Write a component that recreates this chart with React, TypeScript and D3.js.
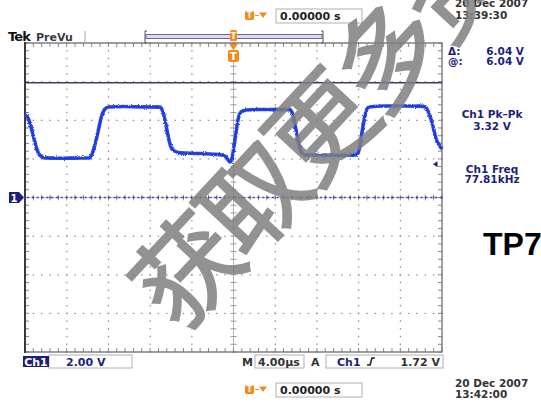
import React from 'react';
import * as d3 from 'd3';

// trace: time in µs (0 = trigger), level in volts
const traceTime = [
  -20.0, -19.7, -19.3, -18.9, -18.6, -18.1, -16.5, -15.0, -13.8, -13.6, -13.3, -13.0, -12.7, -12.4,
  -12.0, -10.5, -9.0, -7.05, -6.77, -6.48, -6.19, -5.9, -5.5, -5.1, -3.5, -2.0, -1.1, -0.72, -0.34,
  -0.14, 0.14, 0.43, 0.72, 1.2, 2.5, 4.0, 5.42, 5.7, 6.0, 6.29, 6.57, 6.96, 8.5, 10.0, 11.75, 12.04,
  12.33, 12.62, 13.0, 14.5, 16.5, 18.3, 18.7, 19.1, 19.4, 19.8, 20.0,
];
const traceVolts = [
  4.33, 4.12, 3.39, 2.56, 2.2, 2.05, 2.03, 2.04, 2.05, 2.2, 2.72, 3.39, 4.12, 4.53,
  4.69, 4.71, 4.69, 4.68, 4.43, 3.76, 2.98, 2.51, 2.36, 2.31, 2.28, 2.24, 2.2, 2.1, 1.84,
  2.05, 2.98, 4.02, 4.43, 4.53, 4.56, 4.55, 4.55, 4.27, 3.5, 2.72, 2.31, 2.2, 2.19, 2.18, 2.2, 2.46,
  3.39, 4.27, 4.69, 4.74, 4.74, 4.72, 4.43, 3.76, 3.08, 2.67, 2.51,
];

const cursorVolts = [0, 6.04];
const triggerLevel = 1.72;
const readouts = [
  { label: 'Ch1 Pk–Pk', value: '3.32 V' },
  { label: 'Ch1 Freq', value: '77.81kHz' },
];
const cursorLabels = [
  { label: 'Δ:', value: '6.04 V' },
  { label: '@:', value: '6.04 V' },
];
const stamps = { top: ['20 Dec  2007', '13:39:30'], bottom: ['20 Dec  2007', '13:42:00'] };
const watermark = '获取更多资料';

const W = 541;
const H = 405;
const box = { left: 25, right: 442, top: 43, bottom: 352 };

const NAVY = '#1e1e7c';
const ORANGE = '#f28a1c';
const FONT = 'DejaVu Sans, Verdana, sans-serif';

const TIcon = ({ x, y, s = 10 }: { x: number; y: number; s?: number }) => (
  <g>
    <rect x={x} y={y} width={s} height={s} rx={1.5} fill={ORANGE} />
    <text x={x + s / 2} y={y + s - 2} fontSize={s - 1} fontWeight="bold" fill="#fff" textAnchor="middle" fontFamily={FONT}>T</text>
  </g>
);

const DelayBox = ({ y }: { y: number }) => (
  <g>
    <TIcon x={245} y={y + 2} s={9} />
    <line x1={255} x2={259} y1={y + 6.5} y2={y + 6.5} stroke={ORANGE} strokeWidth={1} />
    <path d={`M259,${y + 3.5} L267,${y + 3.5} L263,${y + 9} Z`} fill={ORANGE} />
    <rect x={276} y={y} width={86} height={14} fill="#fff" stroke="#b0b0b0" />
    <text x={280} y={y + 11} fontSize={11} fontWeight="bold" fill="#222" fontFamily={FONT}>0.00000 s</text>
  </g>
);

export default function App() {
  const x = d3.scaleLinear().domain([-20, 20]).range([box.left, box.right]);
  const y = d3.scaleLinear().domain([-8, 8]).range([box.bottom, box.top]);

  const majorX = d3.range(-20, 20.001, 4);
  const majorY = d3.range(-8, 8.001, 2);
  const minorX = d3.range(-20, 20.001, 0.8);
  const minorY = d3.range(-8, 8.001, 0.4);

  const line = d3
    .line<number>()
    .x((_, i) => x(traceTime[i]))
    .y((v) => y(v))
    .curve(d3.curveMonotoneX);

  const gridGray = '#8c8c8c';

  return (
    <svg width={W} height={H} style={{ position: 'absolute', left: 0, top: 0, background: '#fff' }}>
      <defs>
        <filter id="noise" x="-5%" y="-20%" width="110%" height="140%">
          <feTurbulence type="fractalNoise" baseFrequency="1.1" numOctaves={1} seed={3} result="t" />
          <feDisplacementMap in="SourceGraphic" in2="t" scale={3} xChannelSelector="R" yChannelSelector="G" />
        </filter>
      </defs>

      {/* dotted grid */}
      {majorX.slice(1, -1).filter((t) => t !== 0).map((t) =>
        minorY.map((v) => <rect key={`vx${t}${v}`} x={x(t) - 0.5} y={y(v) - 0.75} width={1.2} height={1.5} fill={gridGray} />)
      )}
      {majorY.slice(1, -1).filter((v) => v !== 0).map((v) =>
        minorX.map((t) => <rect key={`hy${t}${v}`} x={x(t) - 0.75} y={y(v) - 0.5} width={1.5} height={1.2} fill={gridGray} />)
      )}

      {/* centre axes */}
      <line x1={x(0)} x2={x(0)} y1={box.top} y2={box.bottom} stroke="#b4b4b4" strokeWidth={1} />
      <line x1={box.left} x2={box.right} y1={y(0)} y2={y(0)} stroke="#c8c8c8" strokeWidth={1} />
      {minorY.map((v) => (
        <line key={`cy${v}`} x1={x(0) - 3} x2={x(0) + 3} y1={y(v)} y2={y(v)} stroke="#999" />
      ))}
      {minorX.map((t) => (
        <line key={`cx${t}`} x1={x(t)} x2={x(t)} y1={y(0) - 3} y2={y(0) + 3} stroke="#aaa" />
      ))}

      {/* border with ticks */}
      {minorX.map((t) => (
        <g key={`bx${t}`}>
          <line x1={x(t)} x2={x(t)} y1={box.top} y2={box.top + 4} stroke="#888" />
          <line x1={x(t)} x2={x(t)} y1={box.bottom} y2={box.bottom - 4} stroke="#888" />
        </g>
      ))}
      {minorY.map((v) => (
        <g key={`by${v}`}>
          <line x1={box.left} x2={box.left + 4} y1={y(v)} y2={y(v)} stroke="#888" />
          <line x1={box.right} x2={box.right - 4} y1={y(v)} y2={y(v)} stroke="#888" />
        </g>
      ))}
      <rect x={box.left} y={box.top} width={box.right - box.left} height={box.bottom - box.top} fill="none" stroke="#777" strokeWidth={1.4} />
      <line x1={box.left} x2={box.left} y1={box.top - 1} y2={box.bottom + 1} stroke="#3a3a3a" strokeWidth={2} />

      {/* cursors */}
      <line x1={box.left} x2={box.right} y1={y(cursorVolts[1]) + 2} y2={y(cursorVolts[1]) + 2} stroke="#3c3c6c" strokeWidth={1.5} />
      <line x1={box.left + 2} x2={box.right} y1={y(cursorVolts[0])} y2={y(cursorVolts[0])} stroke="#4a4a9a" strokeWidth={1.3} strokeDasharray="2.2,2.6" />
      {minorX.map((t) => (
        <line key={`gc${t}`} x1={x(t)} x2={x(t)} y1={y(0) - 1.5} y2={y(0) + 1.5} stroke="#4a4a9a" />
      ))}

      {/* waveform */}
      <path d={line(traceVolts) ?? ''} fill="none" stroke="#2a48e8" strokeWidth={3.6} filter="url(#noise)" />
      <path d={line(traceVolts) ?? ''} fill="none" stroke="#1c34d0" strokeWidth={1.3} opacity={0.8} />

      {/* ground marker */}
      <path d={`M9,${y(0) - 5.5} L19,${y(0) - 5.5} L24,${y(0)} L19,${y(0) + 5.5} L9,${y(0) + 5.5} Z`} fill={NAVY} />
      <text x={14} y={y(0) + 4} fontSize={10} fontWeight="bold" fill="#fff" textAnchor="middle" fontFamily={FONT}>1</text>

      {/* trigger level marker */}
      <path d={`M433,${y(triggerLevel)} L437.5,${y(triggerLevel) - 3} L437.5,${y(triggerLevel) + 3} Z`} fill={NAVY} />

      {/* header */}
      <text x={8} y={41} fontSize={13} fontWeight="bold" fill="#111" fontFamily={FONT} letterSpacing={-0.8}>Tek</text>
      <text x={36} y={41} fontSize={11} fontWeight="bold" fill="#3a3a4a" fontFamily={FONT}>PreVu</text>
      <line x1={85} x2={85} y1={31} y2={43} stroke="#aaa" />
      <rect x={146} y={34.5} width={176} height={4} fill="#dcdcf0" stroke="#6a6a9a" strokeWidth={1} />
      <path d="M147,31 L145,31 L145,43 L147,43" fill="none" stroke="#555" />
      <path d="M321,31 L323,31 L323,43 L321,43" fill="none" stroke="#555" />
      <rect x={230} y={30} width={7} height={11} rx={1.5} fill={ORANGE} />
      <text x={233.5} y={39} fontSize={8} fontWeight="bold" fill="#fff" textAnchor="middle" fontFamily={FONT}>T</text>
      <path d={`M229,44 L238,44 L233.5,50 Z`} fill={ORANGE} />
      <rect x={228} y={50} width={11} height={12} rx={2} fill={ORANGE} />
      <text x={233.5} y={60} fontSize={10} fontWeight="bold" fill="#fff" textAnchor="middle" fontFamily={FONT}>T</text>

      <DelayBox y={9} />
      <DelayBox y={383} />

      {stamps.top.map((s, i) => (
        <text key={`st${i}`} x={455} y={6.5 + i * 12} fontSize={10.5} fontWeight="bold" fill="#333" fontFamily={FONT}>{s}</text>
      ))}
      {stamps.bottom.map((s, i) => (
        <text key={`sb${i}`} x={455} y={387 + i * 10.5} fontSize={10.5} fontWeight="bold" fill="#333" fontFamily={FONT}>{s}</text>
      ))}

      {/* right readouts */}
      {cursorLabels.map((c, i) => (
        <g key={`cl${i}`} fontFamily={FONT} fontSize={10.5} fontWeight="bold" fill={NAVY}>
          <text x={448} y={55 + i * 10}>{c.label}</text>
          <text x={524} y={55 + i * 10} textAnchor="end">{c.value}</text>
        </g>
      ))}
      {readouts.map((r, i) => (
        <g key={`rd${i}`} fontFamily={FONT} fontSize={10.5} fontWeight="bold" fill={NAVY} textAnchor="middle">
          <text x={492} y={118 + i * 55}>{r.label}</text>
          <text x={492} y={130 + i * 53}>{r.value}</text>
        </g>
      ))}

      <text x={483} y={255} fontSize={32} fontWeight="bold" fill="#000" fontFamily="Liberation Sans, Arial, sans-serif">TP7</text>

      {/* bottom status */}
      <rect x={49} y={355} width={83} height={13} fill="#fff" stroke="#b0b0b0" />
      <rect x={23} y={356} width={26} height={11} fill={NAVY} />
      <text x={36} y={366} fontSize={11} fontWeight="bold" fill="#fff" textAnchor="middle" fontFamily={FONT}>Ch1</text>
      <text x={66} y={366} fontSize={11} fontWeight="bold" fill={NAVY} fontFamily={FONT}>2.00 V</text>
      <text x={242} y={366} fontSize={11} fontWeight="bold" fill="#333" fontFamily={FONT}>M</text>
      <rect x={255} y={355} width={49} height={13} fill="#fff" stroke="#b0b0b0" />
      <text x={258} y={366} fontSize={11} fontWeight="bold" fill="#333" fontFamily={FONT}>4.00µs</text>
      <text x={311} y={366} fontSize={11} fontWeight="bold" fill="#333" fontFamily={FONT}>A</text>
      <rect x={326} y={355} width={117} height={13} fill="#fff" stroke="#b0b0b0" />
      <text x={337} y={366} fontSize={11} fontWeight="bold" fill={NAVY} fontFamily={FONT}>Ch1</text>
      <path d="M367,365 L370,365 L372,358 L375,358" fill="none" stroke="#222" strokeWidth={1.6} />
      <text x={440} y={366} fontSize={11} fontWeight="bold" fill="#333" textAnchor="end" fontFamily={FONT}>1.72 V</text>

      {/* watermark */}
      <text
        transform="translate(180,334) rotate(-47)"
        fontSize={104}
        fontWeight={400}
        letterSpacing={-6}
        fill="#808080"
        stroke="#808080"
        strokeWidth={2}
        opacity={0.85}
        fontFamily="Noto Sans CJK SC"
      >
        {watermark}
      </text>
    </svg>
  );
}
